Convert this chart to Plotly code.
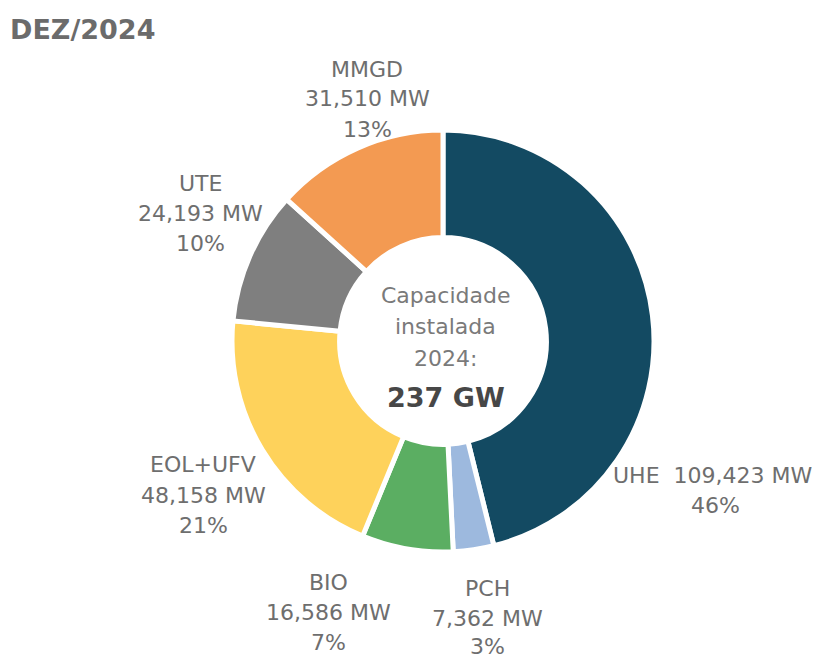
import plotly.graph_objects as go

categories = ["UHE", "PCH", "BIO", "EOL+UFV", "UTE", "MMGD"]
values_mw = [109423, 7362, 16586, 48158, 24193, 31510]
pct_labels = ["46%", "3%", "7%", "21%", "10%", "13%"]
colors = ["#134a62", "#9db9de", "#5bae62", "#fed25b", "#7f7f7f", "#f39a52"]
total_label = "237 GW"
title_text = "DEZ/2024"

# page body has an 8px margin, so the figure fills the rest of the window
OFF = 8
W, H = 820 - OFF, 660 - OFF


def px(x):
    return (x - OFF) / W


def py(y):
    return 1 - (y - OFF) / H


cx, cy, R = 443, 341, 211

fig = go.Figure(go.Pie(
    labels=categories,
    values=values_mw,
    sort=False,
    direction="clockwise",
    rotation=0,
    hole=0.49,
    marker=dict(colors=colors, line=dict(color="white", width=5)),
    textinfo="none",
    hoverinfo="label+value",
    showlegend=False,
    domain=dict(x=[px(cx - R), px(cx + R)], y=[py(cy + R), py(cy - R)]),
))

# label anchor points (screen pixel centres: x, y of first line)
label_pos = {
    "PCH": (487, 588),
    "BIO": (328, 582),
    "EOL+UFV": (203, 465),
    "UTE": (200, 183),
    "MMGD": (367, 69),
}
LINE = 30
lab_font = dict(family="DejaVu Sans", size=22, color="#6e6e6e")

for cat, v, p in zip(categories, values_mw, pct_labels):
    if cat == "UHE":
        fig.add_annotation(
            x=px(611), y=py(475), xref="paper", yref="paper",
            text=f"{cat}&nbsp;&nbsp;{v:,} MW,", showarrow=False,
            xanchor="left", yanchor="middle", font=lab_font,
        )
        fig.add_annotation(
            x=px(715), y=py(505), xref="paper", yref="paper",
            text=p, showarrow=False, xanchor="center", yanchor="middle",
            font=lab_font,
        )
        continue
    x0, y0 = label_pos[cat]
    lines = [cat, f"{v:,} MW", p]
    for i, t in enumerate(lines):
        yy = y0 + i * LINE
        if cat == "PCH" and i == 2:
            yy = 646
        fig.add_annotation(
            x=px(x0), y=py(yy), xref="paper", yref="paper",
            text=t, showarrow=False, xanchor="center", yanchor="middle",
            font=lab_font,
        )

# centre text
center_lines = [("Capacidade", 295), ("instalada", 327), ("2024:", 358)]
for t, yy in center_lines:
    fig.add_annotation(
        x=px(cx + 2), y=py(yy), xref="paper", yref="paper",
        text=t, showarrow=False, xanchor="center", yanchor="middle",
        font=dict(family="DejaVu Sans", size=22, color="#7a7a7a"),
    )
fig.add_annotation(
    x=px(cx + 3), y=py(397), xref="paper", yref="paper",
    text=f"<b>{total_label}</b>", showarrow=False,
    xanchor="center", yanchor="middle",
    font=dict(family="DejaVu Sans", size=27, color="#474747"),
)

# title
fig.add_annotation(
    x=px(8), y=py(29), xref="paper", yref="paper",
    text=f"<b>{title_text}</b>", showarrow=False,
    xanchor="left", yanchor="middle",
    font=dict(family="DejaVu Sans", size=27, color="#6b6b6b"),
)

fig.update_layout(
    width=W, height=H,
    margin=dict(l=0, r=0, t=0, b=0),
    paper_bgcolor="white", plot_bgcolor="white",
)

fig.write_html("out.html")
